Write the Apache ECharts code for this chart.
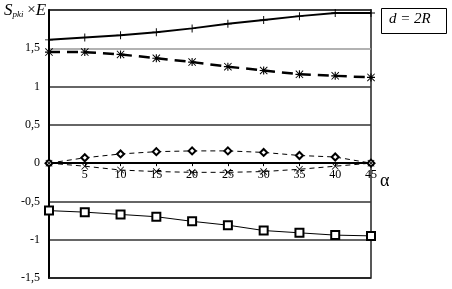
<!DOCTYPE html>
<html><head><meta charset="utf-8">
<script src="https://cdn.jsdelivr.net/npm/echarts@6/dist/echarts.min.js"></script>
<style>html,body{margin:0;padding:0;background:#fff}#c{width:452px;height:289px}</style>
</head><body><div id="c"></div>
<script>
const alphas = [0, 5, 10, 15, 20, 25, 30, 35, 40, 45];
const sPlus = [1.61, 1.64, 1.67, 1.71, 1.76, 1.82, 1.87, 1.92, 1.96, 1.96];
const sStar = [1.45, 1.45, 1.42, 1.37, 1.32, 1.26, 1.21, 1.16, 1.14, 1.12];
const sDiamond = [0, 0.07, 0.12, 0.15, 0.16, 0.16, 0.14, 0.10, 0.08, 0];
const sCross = [0, -0.04, -0.09, -0.11, -0.12, -0.12, -0.11, -0.08, -0.04, 0];
const sSquare = [-0.62, -0.64, -0.67, -0.70, -0.76, -0.81, -0.88, -0.91, -0.94, -0.95];
const yMin = -1.5, yMax = 2, yStep = 0.5;

const PLUS = 'path://M4.4,0h1.2v10h-1.2z M0,4.4h10v1.2h-10z';
const CROSS = 'path://M0.8,0L10,9.2L9.2,10L0,0.8z M9.2,0L10,0.8L0.8,10L0,9.2z';
const STAR = 'path://M4.3,0h1.4v10h-1.4z M0.8,0L10,9.2L9.2,10L0,0.8z M9.2,0L10,0.8L0.8,10L0,9.2z M0,4.3h10v1.4h-10z';
const pts = a => alphas.map((x, i) => [x, a[i]]);
const font = 'Liberation Serif';

const H = 289, gTop = 10, gBottom = 11;
const plotH = H - gTop - gBottom;
const zeroOffset = -plotH * (0 - yMin) / (yMax - yMin);

const chart = echarts.init(document.getElementById('c'), null, {renderer: 'canvas'});
chart.setOption({
  animation: false,
  backgroundColor: '#fff',
  grid: {left: 49, right: 81, top: gTop, bottom: gBottom, show: true, borderColor: '#222', borderWidth: 1.5, backgroundColor: 'transparent'},
  xAxis: {
    type: 'value', min: 0, max: 45, interval: 5, position: 'bottom', offset: zeroOffset,
    axisLine: {onZero: false, lineStyle: {color: '#000', width: 2}},
    axisTick: {show: true, length: 3, inside: false, lineStyle: {color: '#000'}},
    axisLabel: {fontFamily: font, fontSize: 12, color: '#000', margin: 6,
      formatter: v => v === 0 ? '' : String(v)},
    splitLine: {show: false}
  },
  yAxis: {
    type: 'value', min: yMin, max: yMax, interval: yStep,
    axisLine: {show: true, lineStyle: {color: '#000', width: 2}},
    axisTick: {show: false},
    axisLabel: {fontFamily: font, fontSize: 12, color: '#000', margin: 9,
      formatter: v => v === 2 ? '' : String(v).replace('.', ',')},
    splitLine: {show: true, lineStyle: {color: ['#333','#333','#333','#333','#333','#333','#999','#333'], width: 1.5}}
  },
  series: [
    {type: 'line', data: pts(sPlus), symbol: PLUS, symbolSize: 8,
      lineStyle: {color: '#000', width: 2}, itemStyle: {color: '#000'}},
    {type: 'line', data: pts(sStar), symbol: STAR, symbolSize: 8,
      lineStyle: {color: '#000', width: 2.5, type: [11, 7]}, itemStyle: {color: '#000'}},
    {type: 'line', data: pts(sDiamond), symbol: 'emptyDiamond', symbolSize: 7,
      lineStyle: {color: '#000', width: 1, type: [5, 4]}, itemStyle: {color: '#000', borderColor: '#000', borderWidth: 1}},
    {type: 'line', data: pts(sCross), symbol: CROSS, symbolSize: 7,
      lineStyle: {color: '#000', width: 1, type: [5, 4]}, itemStyle: {color: '#000'}},
    {type: 'line', data: pts(sSquare), symbol: 'emptyRect', symbolSize: 8,
      lineStyle: {color: '#000', width: 1}, itemStyle: {color: '#000', borderColor: '#000', borderWidth: 1},
      markLine: {silent: true, symbol: 'none', label: {show: false}, animation: false,
        lineStyle: {color: '#222', width: 1.5, type: 'solid'},
        data: [{yAxis: yMin}]}}
  ],
  graphic: [
    {type: 'text', left: 4, top: 2, style: {
      rich: {
        s: {fontFamily: font, fontStyle: 'italic', fontSize: 17, fill: '#000'},
        sub: {fontFamily: font, fontStyle: 'italic', fontSize: 9, fill: '#000', padding: [8, 0, 0, 0]},
        e: {fontFamily: font, fontStyle: 'italic', fontSize: 17, fill: '#000'},
        m: {fontFamily: font, fontSize: 15, fill: '#000'}
      },
      text: '{s|S}{sub|pki}{m| ×}{e|E}'
    }},
    {type: 'rect', shape: {x: 381.5, y: 8.5, width: 65, height: 25}, style: {fill: '#fff', stroke: '#000', lineWidth: 1}},
    {type: 'text', left: 389, top: 12, style: {text: 'd = 2R', fontFamily: font, fontStyle: 'italic', fontSize: 15, fill: '#000'}},
    {type: 'text', left: 380, top: 172, style: {text: 'α', fontFamily: font, fontSize: 18, fill: '#000'}}
  ]
});
</script>
</body></html>
